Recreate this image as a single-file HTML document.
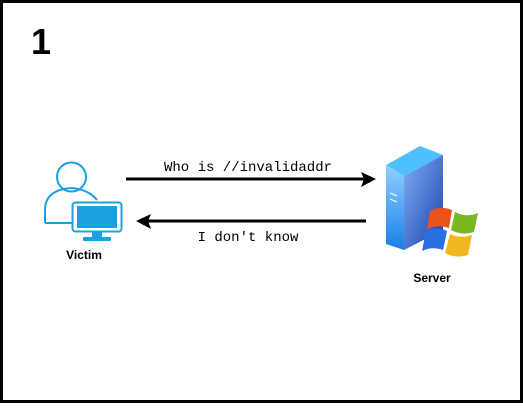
<!DOCTYPE html>
<html><head><style>
body{margin:0;width:523px;height:403px;overflow:hidden;background:#fff;}
</style></head><body>
<svg width="523" height="403" xmlns="http://www.w3.org/2000/svg">
<rect x="1.5" y="1.5" width="520" height="400" fill="#fff" stroke="#000" stroke-width="3"/>
<text x="31" y="54" font-family="Liberation Sans, sans-serif" font-weight="bold" font-size="36">1</text>
<!-- victim -->
<g fill="none" stroke="#1BA1E2" stroke-width="2">
<circle cx="71.5" cy="177" r="14.5" fill="#fff"/>
<path d="M45 223 V210 Q45 190 71 188 Q88 189 97 200"/>
<rect x="72.5" y="202.5" width="49" height="29" rx="3" fill="#fff"/>
</g>
<rect x="77" y="206" width="40" height="22" fill="#1BA1E2"/>
<path d="M45 223 H72" stroke="#1BA1E2" stroke-width="2"/>
<rect x="92" y="232" width="10" height="5" fill="#1BA1E2"/>
<rect x="83" y="237" width="28" height="4" rx="1" fill="#1BA1E2"/>
<text x="84" y="259" text-anchor="middle" font-family="Liberation Sans, sans-serif" font-weight="bold" font-size="12">Victim</text>
<!-- arrows -->
<line x1="126" y1="179" x2="364" y2="179" stroke="#000" stroke-width="3"/>
<path d="M376 179 L361 172 L364 179 L361 187 Z" fill="#000"/>
<line x1="366" y1="221" x2="148" y2="221" stroke="#000" stroke-width="3"/>
<path d="M136 221 L151 214 L148 221 L151 229 Z" fill="#000"/>
<text x="248" y="171" text-anchor="middle" font-family="Liberation Mono, monospace" font-size="14">Who is //invalidaddr</text>
<text x="248" y="241" text-anchor="middle" font-family="Liberation Mono, monospace" font-size="14">I don't know</text>
<!-- server -->
<defs>
<linearGradient id="f" x1="0" y1="0" x2="0" y2="1"><stop offset="0" stop-color="#8fd0ff"/><stop offset="1" stop-color="#1a7fe8"/></linearGradient>
<linearGradient id="s" x1="0" y1="0" x2="1" y2="1"><stop offset="0" stop-color="#7fb0f0"/><stop offset="1" stop-color="#1a3fb0"/></linearGradient>
</defs>
<path d="M386 165 L420 146 L443 155 L404 176 Z" fill="#4fc0ff"/>
<path d="M386 165 L404 176 L404 250 L386 244 Z" fill="url(#f)"/>
<path d="M404 176 L443 155 L443 230 L404 250 Z" fill="url(#s)"/>
<path d="M390 193 l7 3 M390 199 l7 3" stroke="#fff" stroke-width="1"/>
<path d="M430 211 Q440 205 452 210 L449 228 Q438 224 427 229 Z" fill="#e8541c"/>
<path d="M455 212 Q466 218 478 213 L474 232 Q462 236 451 230 Z" fill="#7ab722"/>
<path d="M426 231 Q436 226 447 231 L443 250 Q432 246 422 251 Z" fill="#2a6fe0"/>
<path d="M450 234 Q461 239 472 235 L468 255 Q456 259 445 253 Z" fill="#f0b820"/>
<text x="432" y="282" text-anchor="middle" font-family="Liberation Sans, sans-serif" font-weight="bold" font-size="12">Server</text>
</svg>
</body></html>
